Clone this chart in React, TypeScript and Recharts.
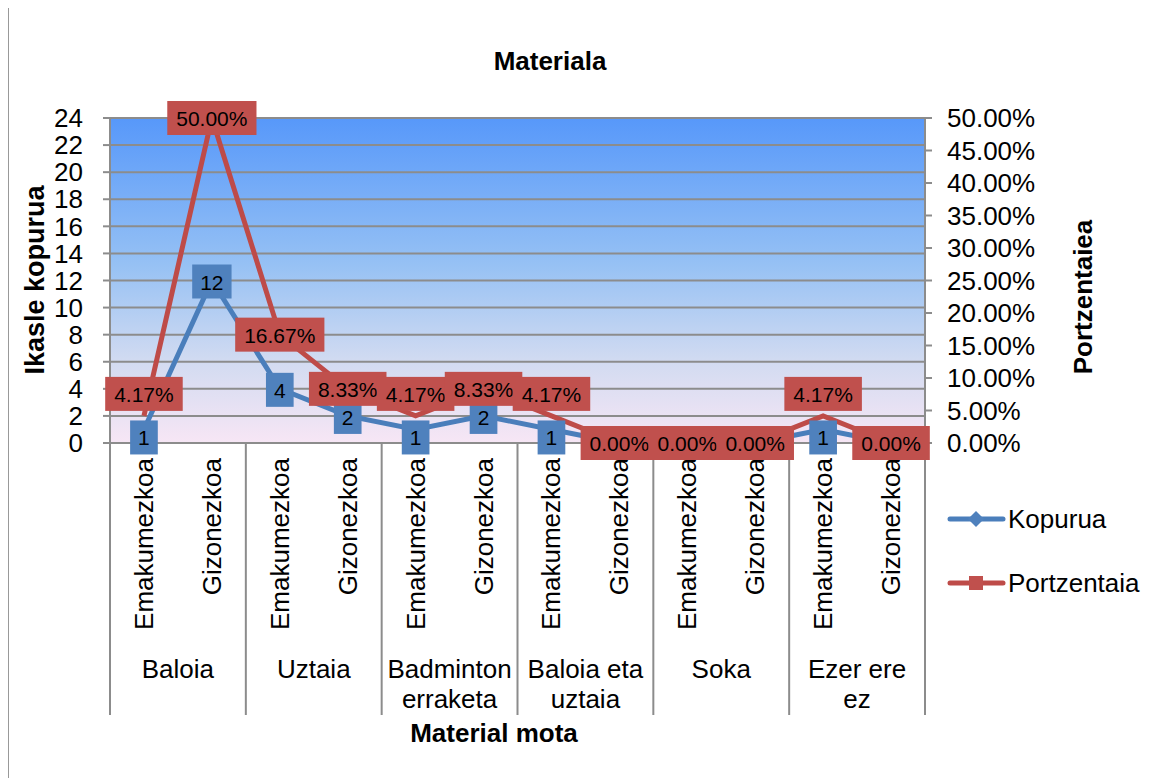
import React from "react"
import {
  LineChart,
  Line,
  XAxis,
  YAxis,
  CartesianGrid,
} from "recharts"

const genders = ["Emakumezkoa", "Gizonezkoa"]
const materials = [
  ["Baloia"],
  ["Uztaia"],
  ["Badminton", "erraketa"],
  ["Baloia eta", "uztaia"],
  ["Soka"],
  ["Ezer ere", "ez"],
]
const kopurua = [1, 12, 4, 2, 1, 2, 1, 0, 0, 0, 1, 0]
const portzentaia = [4.17, 50, 16.67, 8.33, 4.17, 8.33, 4.17, 0, 0, 0, 4.17, 0]
const leftTicks = [0, 2, 4, 6, 8, 10, 12, 14, 16, 18, 20, 22, 24]
const rightTicks = [0, 5, 10, 15, 20, 25, 30, 35, 40, 45, 50]

const data = kopurua.map((k, i) => ({
  idx: String(i),
  kopurua: k,
  portzentaia: portzentaia[i],
}))

const FONT = '"Liberation Sans", Arial, sans-serif'
const BLUE = "#4f81bd"
const BLUE_LINE = "#4a7ebb"
const RED = "#c0504d"
const RED_LINE = "#be4b48"
const GRID = "#8c8c8c"

const W = 1142
const H = 770
const PLOT_LEFT = 102
const PLOT_RIGHT = 917
const PLOT_BOTTOM = 435
const BAND = (PLOT_RIGHT - PLOT_LEFT) / kopurua.length

function textWidth(s: string) {
  let w = 0
  for (const c of s) {
    if (c === ".") w += 0.278
    else if (c === "%") w += 0.889
    else w += 0.556
  }
  return w * 21
}

function CategoryTick(props: any) {
  const { x, payload } = props
  const i = Number(payload.value)
  const tx = x + 9
  const ty = PLOT_BOTTOM + 15
  const group = materials[Math.floor(i / 2)]
  return (
    <g>
      <text
        x={tx}
        y={ty}
        transform={`rotate(-90, ${tx}, ${ty})`}
        textAnchor="end"
        fontSize={26}
        fontFamily={FONT}
        fill="#000"
      >
        {genders[i % 2]}
      </text>
      {i % 2 === 0 && (
        <>
          <line
            x1={x - BAND / 2}
            x2={x - BAND / 2}
            y1={PLOT_BOTTOM}
            y2={PLOT_BOTTOM + 272}
            stroke={GRID}
            strokeWidth={2}
          />
          {group.map((t, k) => (
            <text
              key={k}
              x={x + BAND / 2}
              y={PLOT_BOTTOM + 235 + k * 30}
              textAnchor="middle"
              fontSize={26}
              fontFamily={FONT}
              fill="#000"
            >
              {t}
            </text>
          ))}
        </>
      )}
      {i === kopurua.length - 1 && (
        <line
          x1={x + BAND / 2}
          x2={x + BAND / 2}
          y1={PLOT_BOTTOM}
          y2={PLOT_BOTTOM + 272}
          stroke={GRID}
          strokeWidth={2}
        />
      )}
    </g>
  )
}

function BlueLabel(props: any) {
  const { x, y, value } = props
  if (value === 0 || value == null) return null
  const s = String(value)
  const dy = value < 2 ? 8 : 1
  const w = textWidth(s) + 16
  return (
    <g>
      <rect x={x - w / 2} y={y + dy - 17} width={w} height={34} fill={BLUE} />
      <text
        x={x}
        y={y + dy + 8}
        textAnchor="middle"
        fontSize={21}
        fontFamily={FONT}
        fill="#000"
      >
        {s}
      </text>
    </g>
  )
}

function RedLabel(props: any) {
  const { x, y, value } = props
  if (value == null) return null
  const s = `${Number(value).toFixed(2)}%`
  const dy = value > 0 && value < 6 ? -22 : 0
  const w = textWidth(s) + 18
  return (
    <g>
      <rect x={x - w / 2} y={y + dy - 17} width={w} height={34} fill={RED} />
      <text
        x={x}
        y={y + dy + 8}
        textAnchor="middle"
        fontSize={21}
        fontFamily={FONT}
        fill="#000"
      >
        {s}
      </text>
    </g>
  )
}

export default function App() {
  return (
    <div style={{ position: "relative", width: W, height: H, fontFamily: FONT }}>
      <div
        style={{
          position: "absolute",
          left: -1,
          top: -2,
          width: W + 1,
          height: H + 2,
          borderTop: "2px solid #999",
          borderLeft: "2px solid #999",
          boxSizing: "border-box",
        }}
      />
      <LineChart
        width={W}
        height={H}
        data={data}
        margin={{ top: 110, right: 115, bottom: 45, left: 42 }}
      >
        <defs>
          <linearGradient id="plotBg" x1="0" y1="0" x2="0" y2="1">
            <stop offset="0%" stopColor="#5798fa" />
            <stop offset="45%" stopColor="#96c1f4" />
            <stop offset="75%" stopColor="#d2dbf1" />
            <stop offset="100%" stopColor="#f7e6f5" />
          </linearGradient>
        </defs>
        <CartesianGrid
          yAxisId="left"
          vertical={false}
          stroke={GRID}
          strokeWidth={2}
          fill="url(#plotBg)"
          fillOpacity={1}
        />
        <XAxis
          dataKey="idx"
          interval={0}
          height={290}
          padding={{ left: BAND / 2, right: BAND / 2 }}
          tickLine={false}
          axisLine={{ stroke: GRID, strokeWidth: 2 }}
          tick={<CategoryTick />}
        />
        <YAxis
          yAxisId="left"
          width={60}
          domain={[0, 24]}
          ticks={leftTicks}
          interval={0}
          tickSize={7}
          tickMargin={20}
          axisLine={{ stroke: GRID, strokeWidth: 2 }}
          tickLine={{ stroke: GRID, strokeWidth: 2 }}
          tick={{ fontSize: 26, fill: "#000", fontFamily: FONT }}
        />
        <YAxis
          yAxisId="right"
          orientation="right"
          width={110}
          domain={[0, 50]}
          ticks={rightTicks}
          interval={0}
          tickSize={7}
          tickMargin={15}
          axisLine={{ stroke: GRID, strokeWidth: 2 }}
          tickLine={{ stroke: GRID, strokeWidth: 2 }}
          tick={{ fontSize: 26, fill: "#000", fontFamily: FONT }}
          tickFormatter={(v: number) => `${v.toFixed(2)}%`}
        />
        <Line
          yAxisId="left"
          type="linear"
          dataKey="kopurua"
          stroke={BLUE_LINE}
          strokeWidth={5}
          dot={false}
          label={BlueLabel}
          isAnimationActive={false}
        />
        <Line
          yAxisId="right"
          type="linear"
          dataKey="portzentaia"
          stroke={RED_LINE}
          strokeWidth={5}
          dot={false}
          label={RedLabel}
          isAnimationActive={false}
        />
      </LineChart>
      <svg
        width={W}
        height={H}
        style={{ position: "absolute", left: 0, top: 0, pointerEvents: "none" }}
      >
        <text x={542} y={62} textAnchor="middle" fontSize={26} fontWeight="bold" fontFamily={FONT}>
          Materiala
        </text>
        <text
          x={36}
          y={272}
          transform="rotate(-90, 36, 272)"
          textAnchor="middle"
          fontSize={27}
          fontWeight="bold"
          fontFamily={FONT}
        >
          Ikasle kopurua
        </text>
        <text
          x={1084}
          y={289}
          transform="rotate(-90, 1084, 289)"
          textAnchor="middle"
          fontSize={26}
          fontWeight="bold"
          fontFamily={FONT}
        >
          Portzentaiea
        </text>
        <text x={486} y={734} textAnchor="middle" fontSize={26} fontWeight="bold" fontFamily={FONT}>
          Material mota
        </text>
        <g>
          <line x1={942} x2={995} y1={511} y2={511} stroke={BLUE_LINE} strokeWidth={5} strokeLinecap="round" />
          <path d="M 968 503 L 976 511 L 968 519 L 960 511 Z" fill={BLUE} />
          <text x={1000} y={520} fontSize={26} fontFamily={FONT}>
            Kopurua
          </text>
          <line x1={942} x2={995} y1={575} y2={575} stroke={RED_LINE} strokeWidth={5} strokeLinecap="round" />
          <rect x={961} y={568} width={14} height={14} fill={RED} />
          <text x={1000} y={584} fontSize={26} fontFamily={FONT}>
            Portzentaia
          </text>
        </g>
      </svg>
    </div>
  )
}
